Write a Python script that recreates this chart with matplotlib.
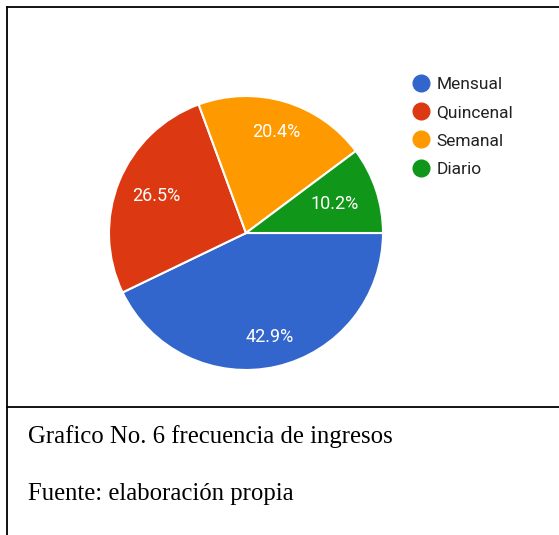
import matplotlib
matplotlib.use("Agg")
import numpy as np
import matplotlib.pyplot as plt
from matplotlib.lines import Line2D

# data (counts out of 49 give the shown percentages)
categories = ["Mensual", "Quincenal", "Semanal", "Diario"]
counts = [21, 13, 10, 5]
colors = ["#3366cc", "#dc3912", "#ff9900", "#109618"]
caption_title = "Grafico No. 6 frecuencia de ingresos"
caption_source = "Fuente: elaboración propia"

W, H = 559, 535
fig = plt.figure(figsize=(W / 100, H / 100), dpi=100)
fig.patch.set_facecolor("white")

# pie axes: center (246,233) px, radius 137 px
cx, cy, r = 246, 233, 137
ax = fig.add_axes([(cx - r) / W, (H - cy - r) / H, 2 * r / W, 2 * r / H])
wedges, texts, autotexts = ax.pie(
    counts,
    colors=colors,
    startangle=0,
    counterclock=False,
    autopct="%.1f%%",
    pctdistance=0.73,
    wedgeprops=dict(edgecolor="white", linewidth=1.5),
    textprops=dict(color="white", fontsize=13, family="Roboto"),
)
# label distance differs a little per slice in the original
label_dist = [0.78, 0.71, 0.77, 0.68]
for w, t, d in zip(wedges, autotexts, label_dist):
    mid = np.deg2rad((w.theta1 + w.theta2) / 2)
    t.set_position((d * np.cos(mid), d * np.sin(mid)))
ax.set_xlim(-1, 1)
ax.set_ylim(-1, 1)
ax.set_aspect("equal")

# legend with round markers
handles = [Line2D([], [], marker="o", linestyle="", markersize=12,
                  markerfacecolor=c, markeredgecolor=c) for c in colors]
fig.legend(handles, categories, loc="upper left",
           bbox_to_anchor=(412 / W, 1 - 77 / H), frameon=False,
           borderpad=0, borderaxespad=0, handlelength=1.0, handletextpad=0.4,
           labelspacing=0.75, prop=dict(family="Roboto", size=12.5),
           labelcolor="#222222")

# table-like borders
fig.add_artist(Line2D([7 / W, 1], [1 - 7 / H, 1 - 7 / H], color="black", lw=1.3,
                      transform=fig.transFigure))
fig.add_artist(Line2D([7 / W, 7 / W], [1 - 7 / H, 0], color="black", lw=1.3,
                      transform=fig.transFigure))
fig.add_artist(Line2D([7 / W, 1], [1 - 407 / H, 1 - 407 / H], color="black", lw=1.3,
                      transform=fig.transFigure))

# captions
fig.text(28 / W, 1 - 443 / H, caption_title, family="Liberation Serif",
         fontsize=17.8, color="black", va="baseline")
fig.text(28 / W, 1 - 500 / H, caption_source, family="Liberation Serif",
         fontsize=17.8, color="black", va="baseline")

fig.savefig("out.png", dpi=100, facecolor="white")
